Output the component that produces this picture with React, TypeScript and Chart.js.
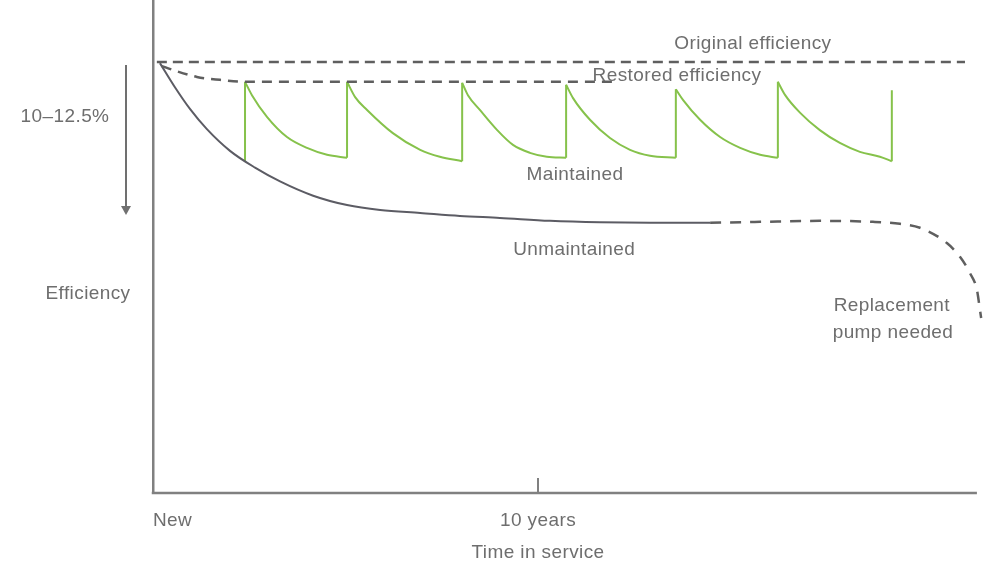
import React, { useEffect, useRef } from 'react';
import { Chart, registerables } from 'chart.js';

Chart.register(...registerables);

// ---- Data (x = years in service, y = relative efficiency) ----
const xTickValues = [0, 10];
const xTickLabels = ['New', '10 years'];
const xTitle = 'Time in service';
const yTitle = 'Efficiency';
const dropLabel = '10–12.5%';
const xAxisEnd = 21.4;

const originalX = [0.1, 21.09];
const originalY = [87.4, 87.4];

const restoredX = [0.23, 0.52, 1.14, 1.74, 2.39, 11.92];
const restoredY = [86.6, 85.8, 84.4, 83.8, 83.4, 83.4];

const unmaintainedX = [0.18, 0.57, 0.96, 1.4, 2.0, 2.65, 3.3, 4.16, 5.04, 5.9, 6.94, 7.97, 9.01, 10.31, 11.61, 12.91, 14.47];
const unmaintainedY = [87.2, 82.3, 77.9, 73.8, 69.4, 66.0, 63.2, 60.3, 58.4, 57.4, 56.8, 56.2, 55.8, 55.2, 54.9, 54.8, 54.8];

const projectionX = [14.47, 15.77, 17.32, 18.7, 19.4, 19.92, 20.62, 20.96, 21.22, 21.4, 21.48, 21.51];
const projectionY = [54.8, 55.0, 55.2, 55.0, 54.6, 53.8, 50.7, 47.9, 44.6, 41.2, 37.1, 35.5];

const serviceX = [2.39, 5.04, 8.03, 10.73, 13.58, 16.23, 19.19];
const serviceBefore = [67.3, 68.0, 67.3, 68.0, 68.0, 68.0, 67.3];
const serviceAfter = [83.4, 83.4, 83.2, 82.8, 81.9, 83.4, 81.7];

const cyclesX = [
  [2.39, 2.57, 2.96, 3.48, 4.0, 4.52, 5.04],
  [5.04, 5.25, 5.56, 6.23, 6.94, 7.45, 8.03],
  [8.03, 8.18, 8.49, 8.94, 9.35, 9.79, 10.23, 10.73],
  [10.73, 10.91, 11.35, 11.87, 12.39, 12.91, 13.58],
  [13.58, 13.77, 14.21, 14.73, 15.25, 15.77, 16.23],
  [16.23, 16.42, 16.81, 17.32, 17.84, 18.36, 18.88, 19.19],
];
const cyclesY = [
  [83.4, 80.7, 76.3, 72.2, 70.0, 68.6, 68.0],
  [83.4, 80.3, 77.7, 73.0, 69.6, 68.2, 67.3],
  [83.2, 80.7, 77.7, 73.6, 70.6, 69.0, 68.2, 68.0],
  [82.8, 80.1, 75.7, 72.0, 69.6, 68.4, 68.0],
  [81.9, 79.7, 75.7, 72.2, 70.0, 68.6, 68.0],
  [83.4, 80.7, 77.1, 73.6, 71.0, 69.2, 68.2, 67.3],
];

// in-plot annotation labels (data coordinates)
const annotations = [
  { text: 'Original efficiency', x: 15.58, y: 91.1 },
  { text: 'Restored efficiency', x: 13.61, y: 84.6 },
  { text: 'Maintained', x: 10.96, y: 64.5 },
  { text: 'Unmaintained', x: 10.94, y: 49.3 },
  { text: 'Replacement', x: 19.19, y: 37.9 },
  { text: 'pump needed', x: 19.22, y: 32.5 },
];

const GREEN = '#86c24b';
const DARK = '#5c5c64';
const DASH = '#5f5f5f';
const AXIS = '#808080';
const TEXT = '#6e6e6e';
const FONT = '19px "Liberation Sans", Arial, sans-serif';

const zip = (xs: number[], ys: number[]) => xs.map((x, i) => ({ x, y: ys[i] }));

const textPlugin = {
  id: 'textPlugin',
  afterDraw(chart: any) {
    const { ctx, scales, chartArea } = chart;
    const xs = scales.x;
    const ys = scales.y;
    ctx.save();

    // x axis line (ends before the right edge)
    ctx.strokeStyle = AXIS;
    ctx.lineWidth = 2.5;
    ctx.beginPath();
    ctx.moveTo(chartArea.left - 1.25, chartArea.bottom);
    ctx.lineTo(xs.getPixelForValue(xAxisEnd), chartArea.bottom);
    ctx.stroke();

    // x tick mark at 10 years (drawn inward)
    const tx = xs.getPixelForValue(xTickValues[1]);
    ctx.lineWidth = 2;
    ctx.beginPath();
    ctx.moveTo(tx, chartArea.bottom);
    ctx.lineTo(tx, chartArea.bottom - 15);
    ctx.stroke();

    ctx.fillStyle = TEXT;
    ctx.font = FONT;
    ctx.textBaseline = 'middle';
    try { (ctx as any).letterSpacing = '0.4px'; } catch (e) {}

    ctx.textAlign = 'center';
    annotations.forEach((a) => {
      ctx.fillText(a.text, xs.getPixelForValue(a.x), ys.getPixelForValue(a.y));
    });

    // x tick labels
    const labelY = chartArea.bottom + 28;
    ctx.textAlign = 'left';
    ctx.fillText(xTickLabels[0], xs.getPixelForValue(xTickValues[0]), labelY);
    ctx.textAlign = 'center';
    ctx.fillText(xTickLabels[1], tx, labelY);
    ctx.fillText(xTitle, tx, chartArea.bottom + 60);

    // y side: drop label, arrow and title
    const left = chartArea.left;
    ctx.fillText(dropLabel, left - 88, ys.getPixelForValue(76.3));
    ctx.fillText(yTitle, left - 65, ys.getPixelForValue(40.4));

    const ax = left - 27;
    const aTop = ys.getPixelForValue(86.8);
    const aBot = ys.getPixelForValue(56.6);
    ctx.strokeStyle = '#707070';
    ctx.fillStyle = '#707070';
    ctx.lineWidth = 2;
    ctx.beginPath();
    ctx.moveTo(ax, aTop);
    ctx.lineTo(ax, aBot - 6);
    ctx.stroke();
    ctx.beginPath();
    ctx.moveTo(ax - 5, aBot - 8);
    ctx.lineTo(ax + 5, aBot - 8);
    ctx.lineTo(ax, aBot + 1);
    ctx.closePath();
    ctx.fill();
    ctx.restore();
  },
};

export default function App() {
  const ref = useRef<HTMLCanvasElement | null>(null);

  useEffect(() => {
    if (!ref.current) return;
    const base = {
      pointRadius: 0,
      pointHoverRadius: 0,
      fill: false,
    };
    const datasets: any[] = [
      {
        ...base,
        label: 'Original efficiency',
        data: zip(originalX, originalY),
        borderColor: DASH,
        borderWidth: 2.5,
        borderDash: [10, 6],
        clip: false,
      },
      {
        ...base,
        label: 'Restored efficiency',
        data: zip(restoredX, restoredY),
        borderColor: DASH,
        borderWidth: 2.5,
        borderDash: [10, 7],
        cubicInterpolationMode: 'monotone',
      },
      {
        ...base,
        label: 'Unmaintained',
        data: zip(unmaintainedX, unmaintainedY),
        borderColor: DARK,
        borderWidth: 2,
        cubicInterpolationMode: 'monotone',
      },
      {
        ...base,
        label: 'Unmaintained (projected)',
        data: zip(projectionX, projectionY),
        borderColor: DASH,
        borderWidth: 2.5,
        borderDash: [11, 9],
        cubicInterpolationMode: 'monotone',
        clip: false,
      },
      ...cyclesX.map((cx, i) => ({
        ...base,
        label: 'Maintained ' + (i + 1),
        data: zip(cx, cyclesY[i]),
        borderColor: GREEN,
        borderWidth: 2,
        cubicInterpolationMode: 'monotone',
      })),
      {
        ...base,
        label: 'Servicing',
        data: serviceX.flatMap((x, i) => [
          { x, y: serviceBefore[i] },
          { x, y: serviceAfter[i] },
          { x, y: null },
        ]),
        borderColor: GREEN,
        borderWidth: 2,
        tension: 0,
        spanGaps: false,
      },
    ];

    const chart = new Chart(ref.current, {
      type: 'line',
      data: { datasets },
      options: {
        animation: false,
        responsive: true,
        maintainAspectRatio: false,
        layout: { padding: { left: 153, right: 0, top: 0, bottom: 74 } },
        plugins: {
          legend: { display: false },
          tooltip: { enabled: false },
        },
        scales: {
          x: {
            type: 'linear',
            min: 0,
            max: 21.61,
            ticks: { display: false },
            grid: { display: false, drawTicks: false, tickLength: 0 },
            border: { display: false },
          },
          y: {
            type: 'linear',
            min: 0,
            max: 100,
            ticks: { display: false },
            grid: { display: false, drawTicks: false, tickLength: 0 },
            border: { display: true, color: AXIS, width: 2.5 },
          },
        },
      } as any,
      plugins: [textPlugin],
    });
    return () => chart.destroy();
  }, []);

  return (
    <div style={{ position: 'fixed', left: 0, top: 0, width: 985, height: 567, background: '#fff' }}>
      <canvas ref={ref} />
    </div>
  );
}
